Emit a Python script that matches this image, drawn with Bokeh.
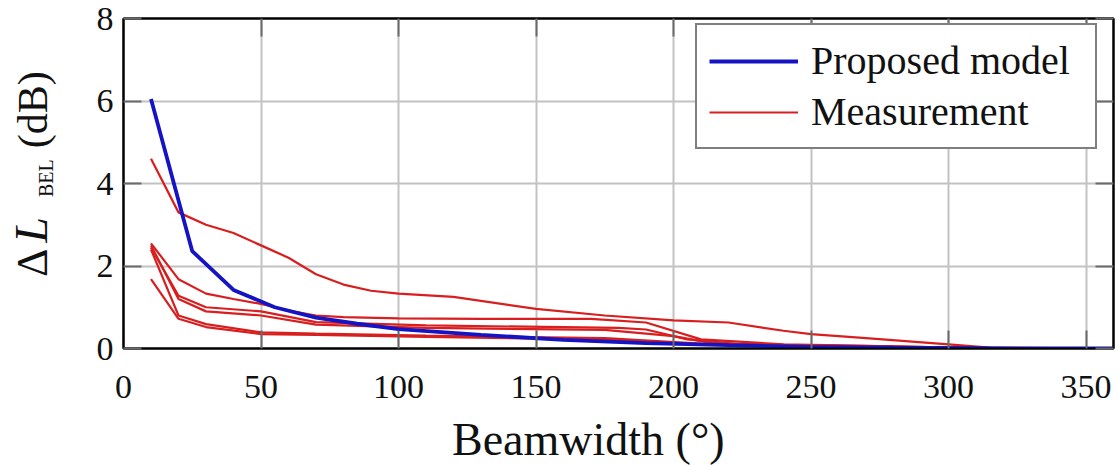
import math
from bokeh.plotting import figure
from bokeh.models import (Range1d, LinearAxis, FixedTicker, Legend, LegendItem, Div)
from bokeh.layouts import row, column
from bokeh.embed import file_html
from bokeh.resources import INLINE

# ---------------- data ----------------
x_ticks = [0, 50, 100, 150, 200, 250, 300, 350]
y_ticks = [0, 2, 4, 6, 8]

model_bw = [10, 25, 40, 55, 70, 85, 100, 130, 160, 190, 220, 250, 280, 310, 340, 360]
model_dl = [6.05, 2.36, 1.42, 1.0, 0.75, 0.6, 0.47, 0.33, 0.21, 0.13, 0.08, 0.04, 0.02, 0.01, 0.0, 0.0]

meas1_bw = [10, 20, 30, 40, 50, 60, 70, 80, 90, 100, 120, 150, 175, 200, 220, 240, 250, 270, 300, 315, 360]
meas1_dl = [4.6, 3.3, 3.0, 2.8, 2.5, 2.2, 1.8, 1.55, 1.4, 1.33, 1.25, 0.96, 0.8, 0.68, 0.63, 0.43, 0.35, 0.25, 0.1, 0.02, 0.0]

meas2_bw = [10, 20, 30, 40, 50, 60, 70, 80, 100, 130, 170, 190, 210, 240, 280, 310, 360]
meas2_dl = [2.55, 1.68, 1.33, 1.2, 1.08, 0.92, 0.8, 0.76, 0.73, 0.72, 0.72, 0.63, 0.22, 0.1, 0.05, 0.01, 0.0]

meas3_bw = [10, 20, 30, 50, 70, 110, 180, 190, 205, 225, 260, 300, 360]
meas3_dl = [2.45, 1.28, 1.0, 0.9, 0.64, 0.56, 0.5, 0.46, 0.22, 0.1, 0.06, 0.01, 0.0]

meas4_bw = [10, 20, 30, 50, 70, 110, 175, 200, 215, 240, 280, 310, 360]
meas4_dl = [2.5, 1.2, 0.9, 0.8, 0.58, 0.5, 0.45, 0.3, 0.12, 0.09, 0.05, 0.01, 0.0]

meas5_bw = [10, 20, 30, 50, 70, 110, 175, 210, 240, 280, 310, 360]
meas5_dl = [2.4, 0.8, 0.59, 0.39, 0.36, 0.31, 0.25, 0.12, 0.08, 0.04, 0.01, 0.0]

meas6_bw = [10, 20, 30, 50, 70, 110, 175, 210, 250, 300, 360]
meas6_dl = [1.68, 0.72, 0.52, 0.35, 0.33, 0.28, 0.22, 0.1, 0.05, 0.01, 0.0]

measurements = [(meas1_bw, meas1_dl), (meas2_bw, meas2_dl), (meas3_bw, meas3_dl),
                (meas4_bw, meas4_dl), (meas5_bw, meas5_dl), (meas6_bw, meas6_dl)]

x_title = "Beamwidth (°)"
legend_labels = ["Proposed model", "Measurement"]

SERIF = "Liberation Serif"
RED = "#d81e1e"
BLUE = "#1414c4"
INK = "#111111"

H = 466
YLAB_W = 75
MAIN_W = 1041
MAIN_H = 410
XLAB_H = H - MAIN_H

# ---------------- main plot ----------------
p = figure(width=MAIN_W, height=MAIN_H, x_range=Range1d(0, 360), y_range=Range1d(0, 8),
           output_backend="svg", toolbar_location=None,
           min_border_left=48, min_border_right=3, min_border_top=18, min_border_bottom=62,
           background_fill_color="white", border_fill_color="white")
p.outline_line_color = "black"
p.outline_line_width = 2

xt = FixedTicker(ticks=x_ticks)
yt = FixedTicker(ticks=y_ticks)
p.xaxis.ticker = xt
p.yaxis.ticker = yt
p.xgrid.ticker = xt
p.ygrid.ticker = yt
for g in (p.xgrid, p.ygrid):
    g.grid_line_color = "#c2c2c2"
    g.grid_line_width = 2

def style_axis(ax, show_labels, standoff):
    ax.axis_line_color = "black"
    ax.axis_line_width = 2
    ax.major_tick_in = 18
    ax.major_tick_out = 0
    ax.major_tick_line_color = "#6a6a6a"
    ax.major_tick_line_width = 2
    ax.minor_tick_line_color = None
    ax.major_label_standoff = standoff
    if show_labels:
        ax.major_label_text_font = SERIF
        ax.major_label_text_font_size = "34px"
        ax.major_label_text_color = INK
    else:
        ax.major_label_text_font_size = "0px"
        ax.major_label_text_alpha = 0

style_axis(p.xaxis[0], True, 27)
style_axis(p.yaxis[0], True, 10)

top_ax = LinearAxis(ticker=xt)
right_ax = LinearAxis(ticker=yt)
style_axis(top_ax, False, 0)
style_axis(right_ax, False, 0)
p.add_layout(top_ax, "above")
p.add_layout(right_ax, "right")

red_renderers = []
for bw, dl in measurements:
    r = p.line(bw, dl, line_color=RED, line_width=2.2)
    red_renderers.append(r)
blue_r = p.line(model_bw, model_dl, line_color=BLUE, line_width=3.8)

legend = Legend(items=[LegendItem(label=legend_labels[0], renderers=[blue_r]),
                       LegendItem(label=legend_labels[1], renderers=[red_renderers[0]])],
                location=(572, 199))
legend.label_text_font = SERIF
legend.label_text_font_size = "40px"
legend.label_text_color = INK
legend.border_line_color = "black"
legend.border_line_width = 2
legend.background_fill_color = "white"
legend.background_fill_alpha = 1
legend.padding = 12
legend.spacing = 4
legend.glyph_width = 89
legend.glyph_height = 40
legend.label_standoff = 13
legend.label_width = 272
p.add_layout(legend)

# ---------------- x axis title ----------------
xlab_html = (
    '<div style="position:relative;width:%dpx;height:%dpx;overflow:visible;">'
    '<div style="position:absolute;left:377px;top:7px;white-space:nowrap;'
    'font-family:\'Liberation Serif\';font-size:46px;line-height:1;color:#111111;">%s</div>'
    '</div>' % (MAIN_W, XLAB_H, x_title)
)
xlab = Div(text=xlab_html, width=MAIN_W, height=XLAB_H, margin=0)

# ---------------- y axis title: Δ L_BEL (dB), rotated text ----------------
ylab_html = (
    '<div style="position:relative;width:%dpx;height:%dpx;overflow:visible;">'
    '<div style="position:absolute;left:9px;top:277px;transform:rotate(-90deg);'
    'transform-origin:0 0;white-space:nowrap;font-family:\'Liberation Serif\';'
    'font-size:42px;line-height:1;color:#111111;">'
    '<span style="font-size:44px;line-height:1">Δ</span>'
    '<span style="font-size:46px;line-height:1;font-style:italic;margin-left:6px">L</span>'
    '<span style="font-size:20px;line-height:1;vertical-align:-6px;margin-left:20px">BEL</span>'
    '<span style="margin-left:11px">(dB)</span>'
    '</div></div>' % (YLAB_W, H)
)
ylab = Div(text=ylab_html, width=YLAB_W, height=H, margin=0)

layout = row(ylab, column(p, xlab))
open("out.html", "w").write(file_html(layout, INLINE))
